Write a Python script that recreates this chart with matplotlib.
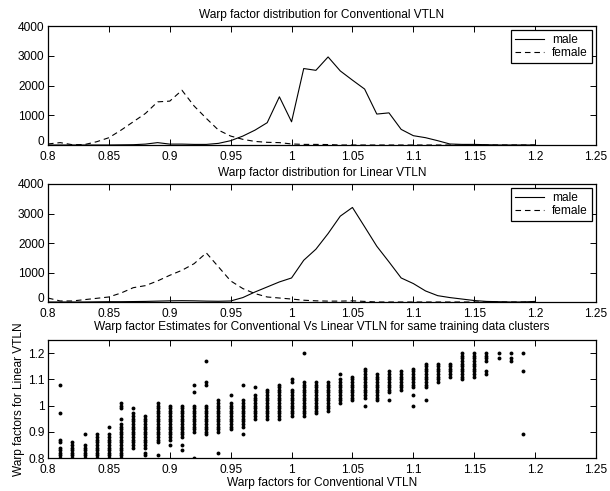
import matplotlib
matplotlib.use("Agg")
import matplotlib.pyplot as plt
from matplotlib.ticker import FuncFormatter, FixedLocator

plt.rcParams['font.family'] = ['Liberation Sans', 'DejaVu Sans']

# ---------------- data ----------------
warp = [0.80, 0.81, 0.82, 0.83, 0.84, 0.85, 0.86, 0.87, 0.88, 0.89,
        0.90, 0.91, 0.92, 0.93, 0.94, 0.95, 0.96, 0.97, 0.98, 0.99,
        1.00, 1.01, 1.02, 1.03, 1.04, 1.05, 1.06, 1.07, 1.08, 1.09,
        1.10, 1.11, 1.12, 1.13, 1.14, 1.15, 1.16, 1.17, 1.18, 1.19, 1.20]

conv_male = [0, 0, 0, 0, 0, 0, 5, 10, 30, 80,
             30, 30, 20, 20, 55, 145, 300, 500, 750, 1620,
             780, 2570, 2510, 2960, 2490, 2180, 1880, 1040, 1080, 525,
             313, 246, 145, 34, 20, 20, 10, 0, 0, 0, 0]
conv_female = [35, 80, 10, 15, 110, 245, 500, 780, 1060, 1450,
               1475, 1840, 1310, 895, 500, 300, 190, 120, 90, 80,
               35, 20, 20, 15, 0, 0, 0, 0, 0, 0,
               0, 0, 0, 0, 0, 0, 0, 0, 0, 0, 0]

lin_male = [0, 0, 0, 0, 5, 10, 10, 15, 20, 30,
            40, 45, 40, 30, 25, 35, 150, 340, 510, 680,
            815, 1415, 1790, 2320, 2910, 3205, 2550, 1890, 1360, 815,
            625, 375, 215, 150, 100, 50, 20, 10, 0, 0, 20]
lin_female = [135, 35, 35, 80, 125, 170, 305, 485, 555, 715,
              905, 1075, 1300, 1665, 1190, 715, 455, 285, 170, 135,
              100, 60, 40, 30, 30, 40, 20, 0, 0, 0,
              0, 0, 0, 0, 0, 0, 0, 0, 0, 0, 0]

# scatter: conventional warp (hundredths) -> linear warps observed (hundredths)
scatter_cols = {
    81: [80, 81, 82, 83, 84, 86, 87, 97, 108],
    82: [80, 81, 82, 83, 84, 85, 86],
    83: [80, 81, 82, 83, 84, 85, 89],
    84: [80, 81, 82, 83, 84, 85, 86, 87, 88, 89],
    85: [80, 81, 82, 83, 84, 85, 86, 87, 88, 89, 92],
    86: [80, 81, 82, 83, 84, 85, 86, 87, 88, 89, 90, 91, 92, 93, 95, 99, 100, 101],
    87: [84, 85, 86, 87, 88, 89, 90, 91, 92, 93, 94, 95, 96, 97, 99],
    88: [81, 82, 84, 85, 86, 87, 88, 89, 90, 91, 92, 93, 94, 95, 96],
    89: [81, 86, 87, 88, 89, 90, 91, 92, 93, 94, 95, 96, 97, 98, 99, 100, 101],
    90: [85, 87, 88, 89, 90, 91, 92, 93, 94, 95, 96, 97, 98, 99, 100],
    91: [83, 85, 88, 89, 90, 91, 92, 93, 94, 95, 96, 97, 98, 99, 100],
    92: [80, 90, 91, 92, 93, 94, 95, 96, 97, 98, 99, 100, 105, 108],
    93: [89, 90, 91, 92, 93, 94, 95, 96, 97, 98, 99, 100, 108, 109, 117],
    94: [82, 90, 91, 92, 93, 94, 95, 96, 97, 98, 99, 100, 101, 102],
    95: [91, 92, 93, 94, 95, 96, 97, 98, 99, 100, 101, 104],
    96: [89, 92, 93, 94, 95, 96, 97, 98, 99, 100, 101, 102, 108],
    97: [95, 96, 97, 98, 99, 100, 101, 102, 103, 104, 107],
    98: [95, 96, 97, 98, 99, 100, 101, 102, 103, 104, 105, 106],
    99: [95, 96, 97, 98, 99, 100, 101, 102, 103, 104, 105, 106, 107, 108],
    100: [96, 97, 98, 99, 100, 101, 102, 103, 104, 105, 106, 109, 110],
    101: [96, 97, 98, 99, 100, 101, 102, 103, 104, 105, 106, 107, 108, 109, 120],
    102: [97, 98, 99, 100, 101, 102, 103, 104, 105, 106, 107, 108, 109],
    103: [98, 99, 100, 101, 102, 103, 104, 105, 106, 107, 108, 109],
    104: [101, 102, 103, 104, 105, 106, 107, 108, 109, 110, 112],
    105: [102, 103, 104, 105, 106, 107, 108, 109, 110, 111],
    106: [100, 103, 104, 105, 106, 107, 108, 109, 110, 111, 112, 113, 114],
    107: [102, 103, 104, 105, 106, 107, 108, 109, 110, 111, 112],
    108: [102, 105, 106, 107, 108, 109, 110, 111, 112, 113],
    109: [106, 107, 108, 109, 110, 111, 112, 113],
    110: [100, 104, 107, 108, 109, 110, 111, 112, 113, 114],
    111: [102, 107, 108, 109, 110, 111, 112, 113, 114, 115, 116],
    112: [109, 110, 111, 112, 113, 114, 115, 116],
    113: [111, 112, 113, 114, 115, 116],
    114: [110, 111, 112, 113, 114, 115, 116, 117, 118, 119, 120],
    115: [111, 112, 113, 114, 115, 116, 117, 118, 119, 120],
    116: [112, 113, 117, 118, 119, 120],
    117: [118, 120],
    118: [117, 118, 120],
    119: [89, 113, 120],
}

xticks = [0.8, 0.85, 0.9, 0.95, 1.0, 1.05, 1.1, 1.15, 1.2, 1.25]
hist_yticks = [0, 1000, 2000, 3000, 4000]
scat_yticks = [0.8, 0.9, 1.0, 1.1, 1.2]

titles = ["Warp factor distribution for Conventional VTLN",
          "Warp factor distribution for Linear VTLN",
          "Warp factor Estimates for Conventional Vs Linear VTLN for same training data clusters"]

# ---------------- figure ----------------
FS = 8.6
fig = plt.figure(figsize=(6.10, 4.91), dpi=100)
L, W = 48 / 610, 548 / 610
ax1 = fig.add_axes([L, 1 - 145 / 491, W, 119 / 491])
ax2 = fig.add_axes([L, 1 - 302 / 491, W, 118 / 491])
ax3 = fig.add_axes([L, 1 - 458 / 491, W, 118 / 491])

fmt = FuncFormatter(lambda v, p: ('%g' % round(v, 4)))
# the "0" label of the histograms is drawn separately (nudged up slightly)
fmt_hist = FuncFormatter(lambda v, p: '' if v == 0 else ('%g' % v))

YPAD = 2.5


def style(ax):
    ax.xaxis.set_major_locator(FixedLocator(xticks))
    ax.xaxis.set_major_formatter(fmt)
    ax.set_xlim(0.8, 1.25)
    ax.tick_params(direction='in', top=True, right=True, length=4, width=0.7,
                   labelsize=FS)
    ax.tick_params(axis='x', pad=4.2)
    ax.tick_params(axis='y', pad=YPAD)
    for s in ax.spines.values():
        s.set_linewidth(0.9)


for ax, m, f, t in [(ax1, conv_male, conv_female, titles[0]),
                    (ax2, lin_male, lin_female, titles[1])]:
    ax.plot(warp, m, color='k', lw=0.8, label='male')
    ax.plot(warp, f, color='k', lw=0.8, dashes=(5, 3.5), label='female')
    style(ax)
    ax.set_ylim(0, 4000)
    ax.yaxis.set_major_locator(FixedLocator(hist_yticks))
    ax.yaxis.set_major_formatter(fmt_hist)
    ax.annotate('%g' % hist_yticks[0], xy=(0, hist_yticks[0]),
                xycoords=('axes fraction', 'data'),
                xytext=(-YPAD - 0.6, 2.2), textcoords='offset points',
                ha='right', va='center', fontsize=FS)
    ax.set_title(t, fontsize=FS, pad=6)
    leg = ax.legend(loc='upper right', fontsize=FS, fancybox=False,
                    framealpha=1, edgecolor='k', borderaxespad=0.35,
                    handlelength=2.4, borderpad=0.35, labelspacing=0.05,
                    handletextpad=0.65)
    leg.get_frame().set_linewidth(0.9)

xs, ys = [], []
for k, vals in scatter_cols.items():
    for v in vals:
        xs.append(k / 100)
        ys.append(v / 100)
ax3.plot(xs, ys, 'o', color='k', ms=2.8, mew=0)
style(ax3)
ax3.set_ylim(0.8, 1.25)
ax3.yaxis.set_major_locator(FixedLocator(scat_yticks))
ax3.yaxis.set_major_formatter(fmt)
ax3.set_title(titles[2], fontsize=FS, pad=7)
ax3.set_xlabel("Warp factors for Conventional VTLN", fontsize=FS, labelpad=1.0)
ax3.set_ylabel("Warp factors for Linear VTLN", fontsize=FS, labelpad=2)

fig.savefig("out.png", dpi=100)
